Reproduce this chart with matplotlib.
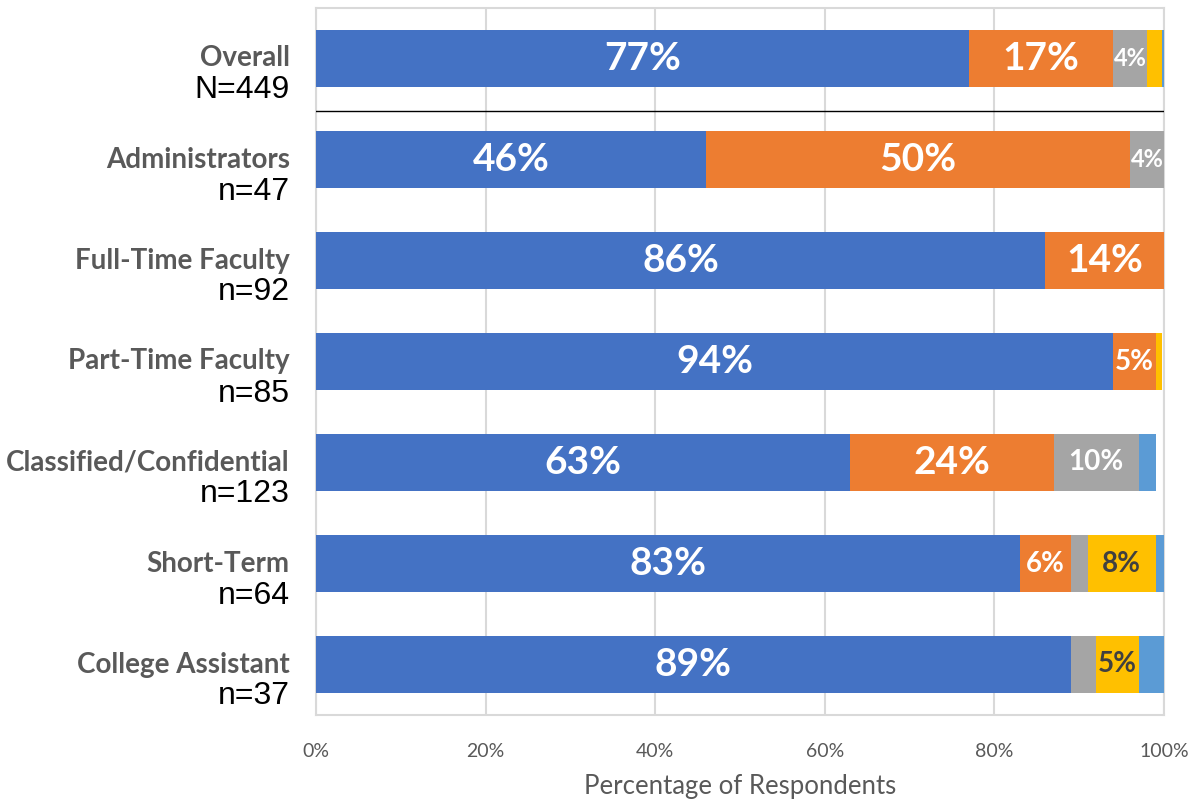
import numpy as np
import matplotlib
matplotlib.use("Agg")
import matplotlib.pyplot as plt

groups = ["Overall", "Administrators", "Full-Time Faculty", "Part-Time Faculty",
          "Classified/Confidential", "Short-Term", "College Assistant"]
counts = ["N=449", "n=47", "n=92", "n=85", "n=123", "n=64", "n=37"]

blue = [77, 46, 86, 94, 63, 83, 89]
orange = [17, 50, 14, 5, 24, 6, 0]
gray = [4, 4, 0, 0, 10, 2, 3]
yellow = [1.8, 0, 0, 0.8, 0, 8, 5]
light_blue = [0.2, 0, 0, 0, 2, 1, 3]

series = [blue, orange, gray, yellow, light_blue]
colors = ["#4472C4", "#ED7D31", "#A5A5A5", "#FFC000", "#5B9BD5"]
text_colors = ["white", "white", "white", "#404040", "white"]

plt.rcParams['font.family'] = ['Lato', 'DejaVu Sans']

fig = plt.figure(figsize=(11.92, 7.99), dpi=100)
ax = fig.add_axes([316 / 1192, 84 / 799, 848 / 1192, 707 / 799])

y = np.arange(len(groups))
left = np.zeros(len(groups))
for vals, col, tcol in zip(series, colors, text_colors):
    vals = np.array(vals, dtype=float)
    ax.barh(y, vals, left=left, height=0.555, color=col, zorder=3)
    for i, v in enumerate(vals):
        if v >= 4:
            if v >= 14:
                fs = 28
            elif v >= 5:
                fs = 20
            else:
                fs = 17
            ax.text(left[i] + v / 2, y[i], f"{v:.0f}%", ha="center", va="center",
                    color=tcol, fontsize=fs, fontweight="bold", zorder=4)
    left += vals

# separator under Overall
ax.plot([0, 100], [0.52, 0.52], color="black", lw=1, zorder=4)

ax.set_xlim(0, 100)
ax.set_ylim(len(groups) - 0.5, -0.5)
ax.set_xticks(np.arange(0, 101, 20))
ax.set_xticklabels([f"{t}%" for t in range(0, 101, 20)], fontsize=14, color="#595959")
ax.set_yticks([])
ax.tick_params(axis="x", length=0, pad=20)
ax.grid(axis="x", color="#D9D9D9", lw=1.5, zorder=0)
for s in ax.spines.values():
    s.set_color("#D9D9D9")
    s.set_linewidth(1.5)
ax.set_xlabel("Percentage of Respondents", fontsize=18.5, color="#595959", labelpad=10)

for i in range(len(groups)):
    ax.annotate(groups[i], xy=(-0.031, y[i]), xycoords=("axes fraction", "data"),
                xytext=(0, 0), textcoords="offset pixels", ha="right", va="center",
                fontsize=20, fontweight="bold", color="#595959")
    ax.annotate(counts[i], xy=(-0.031, y[i]), xycoords=("axes fraction", "data"),
                xytext=(0, -32), textcoords="offset pixels", ha="right", va="center",
                fontsize=23, color="black", family=["Liberation Sans", "DejaVu Sans"])

fig.savefig("out.png", dpi=100)
